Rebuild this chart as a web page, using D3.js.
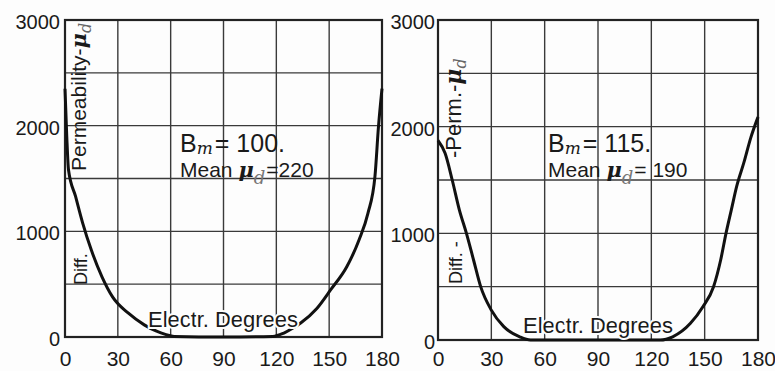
<!DOCTYPE html>
<html>
<head>
<meta charset="utf-8">
<script src="https://cdn.jsdelivr.net/npm/d3@7"></script>
<style>
  body { margin: 0; background: #fff; }
  text { font-family: "Liberation Sans", Arial, sans-serif; fill: #1a1a1a; }
</style>
</head>
<body>
<svg id="chart"></svg>
<script>
const svgWidth = 775;
const svgHeight = 371;

// electrical degrees (x) and differential permeability (y)
const degTicks = [0, 30, 60, 90, 120, 150, 180];
const muTicks = [0, 1000, 2000, 3000];
const muGrid = [500, 1000, 1500, 2000, 2500];

const leftDeg = [0, 1, 2, 6, 10, 15, 21, 27, 36, 45, 52, 57, 62, 90, 118, 124, 129, 134, 143, 151, 160, 167, 172, 176, 178, 180];
const leftMu = [2350, 1900, 1580, 1330, 1080, 820, 570, 380, 225, 115, 55, 25, 5, 0, 5, 35, 80, 135, 270, 450, 665, 920, 1170, 1520, 1990, 2350];

const rightDeg = [0, 4, 8, 12, 16, 20, 24, 30, 37, 46, 52, 90, 125, 132, 142, 149, 155, 159, 162, 165, 168, 172, 176, 180];
const rightMu = [1870, 1750, 1500, 1220, 1000, 750, 500, 280, 125, 30, 0, 0, 0, 30, 156, 312, 500, 750, 1000, 1220, 1440, 1660, 1900, 2090];

const svg = d3.select("#chart")
    .attr("width", svgWidth)
    .attr("height", svgHeight);

svg.append('rect')
    .attr('width', svgWidth)
    .attr('height', svgHeight)
    .attr('fill', '#fdfdfd');

function drawPanel(p) {
    const x = d3.scaleLinear().domain([0, 180]).range([p.x0, p.x1]);
    const y = d3.scaleLinear().domain([0, 3000]).range([p.y0, p.y1]);
    const g = svg.append('g');

    // grid
    g.selectAll('.vgrid')
        .data(degTicks.slice(1, -1))
        .enter()
        .append('line')
        .attr('x1', d => x(d)).attr('x2', d => x(d))
        .attr('y1', y(3000)).attr('y2', y(0))
        .attr('stroke', '#3a3a3a')
        .attr('stroke-width', 1.4);

    g.selectAll('.hgrid')
        .data(muGrid)
        .enter()
        .append('line')
        .attr('x1', x(0)).attr('x2', x(180))
        .attr('y1', d => y(d)).attr('y2', d => y(d))
        .attr('stroke', '#3a3a3a')
        .attr('stroke-width', 1.4);

    // frame
    g.append('rect')
        .attr('x', x(0)).attr('y', y(3000))
        .attr('width', x(180) - x(0))
        .attr('height', y(0) - y(3000))
        .attr('fill', 'none')
        .attr('stroke', '#222')
        .attr('stroke-width', 2.2);

    // axes labels
    g.append('g')
        .attr('transform', `translate(0,${y(0)})`)
        .call(d3.axisBottom(x).tickValues(degTicks).tickSize(0).tickPadding(p.xPad))
        .call(a => a.select('.domain').remove())
        .selectAll('text')
        .attr('font-size', 21)
        .attr('font-family', '"Liberation Sans Narrow", "Liberation Sans", sans-serif')
        .attr('fill', '#1a1a1a');

    g.append('g')
        .attr('transform', `translate(${x(0) - p.yPad},0)`)
        .call(d3.axisLeft(y).tickValues(muTicks).tickSize(0).tickPadding(0).tickFormat(d3.format('d')))
        .call(a => a.select('.domain').remove())
        .selectAll('text')
        .attr('font-size', 20)
        .attr('dy', '0.42em')
        .attr('fill', '#1a1a1a');

    // the curve
    const line = d3.line()
        .x((d, i) => x(p.deg[i]))
        .y(d => y(d))
        .curve(d3.curveMonotoneX);

    g.append('path')
        .datum(p.mu)
        .attr('d', line)
        .attr('fill', 'none')
        .attr('stroke', '#111')
        .attr('stroke-width', 3);

    // rotated axis titles
    const rot = (tx, ty, size) => g.append('text')
        .attr('transform', `translate(${tx},${ty}) rotate(-90)`)
        .attr('font-size', size);

    const t1 = rot(p.titleX, p.titleY, p.titleSize);
    t1.append('tspan').text(p.titleText);
    t1.append('tspan').text('μ').attr('font-style', 'italic').attr('font-weight', 'bold')
        .attr('font-family', '"DejaVu Serif", serif');
    t1.append('tspan').text('d').attr('font-style', 'italic').attr('font-size', 16)
        .attr('dy', 5).attr('fill', '#666').attr('font-family', '"DejaVu Serif", serif');

    rot(p.titleX + 1, p.diffY, 18).text(p.diffText);

    // Electr. Degrees
    g.append('text')
        .attr('x', p.edX).attr('y', p.edY)
        .attr('font-size', 22)
        .attr('textLength', 150)
        .text('Electr. Degrees')
        .attr('stroke', '#fdfdfd').attr('stroke-width', 4).attr('paint-order', 'stroke');

    // annotation
    const b = g.append('text').attr('x', p.noteX).attr('y', p.noteY).attr('font-size', 25);
    b.append('tspan').text('B');
    b.append('tspan').text('m').attr('font-style', 'italic').attr('font-size', 17)
        .attr('dy', 2).attr('font-family', '"DejaVu Serif", serif');
    b.append('tspan').text(p.bText).attr('dy', -2).attr('dx', 2);

    const m = g.append('text').attr('x', p.noteX).attr('y', p.noteY + 25).attr('font-size', 21);
    m.append('tspan').text('Mean ');
    m.append('tspan').text('μ').attr('font-style', 'italic').attr('font-weight', 'bold')
        .attr('font-family', '"DejaVu Serif", serif');
    m.append('tspan').text('d').attr('font-style', 'italic').attr('font-size', 18)
        .attr('dy', 7).attr('fill', '#777').attr('font-family', '"DejaVu Serif", serif');
    m.append('tspan').text(p.meanText).attr('dy', -7).attr('dx', 1);
}

drawPanel({
    x0: 65, x1: 382, y0: 337, y1: 20, yPad: 5, xPad: 14,
    deg: leftDeg, mu: leftMu,
    titleX: 86, titleY: 171, titleSize: 21, titleText: 'Permeability-',
    diffY: 285, diffText: 'Diff.',
    edX: 148, edY: 327,
    noteX: 180, noteY: 152, bText: '= 100.', meanText: '=220'
});

drawPanel({
    x0: 438, x1: 758, y0: 340, y1: 20, yPad: 3, xPad: 11,
    deg: rightDeg, mu: rightMu,
    titleX: 461, titleY: 158, titleSize: 22, titleText: '-Perm.-',
    diffY: 284, diffText: 'Diff. -',
    edX: 523, edY: 333,
    noteX: 548, noteY: 152, bText: '= 115.', meanText: '= 190'
});
</script>
</body>
</html>
